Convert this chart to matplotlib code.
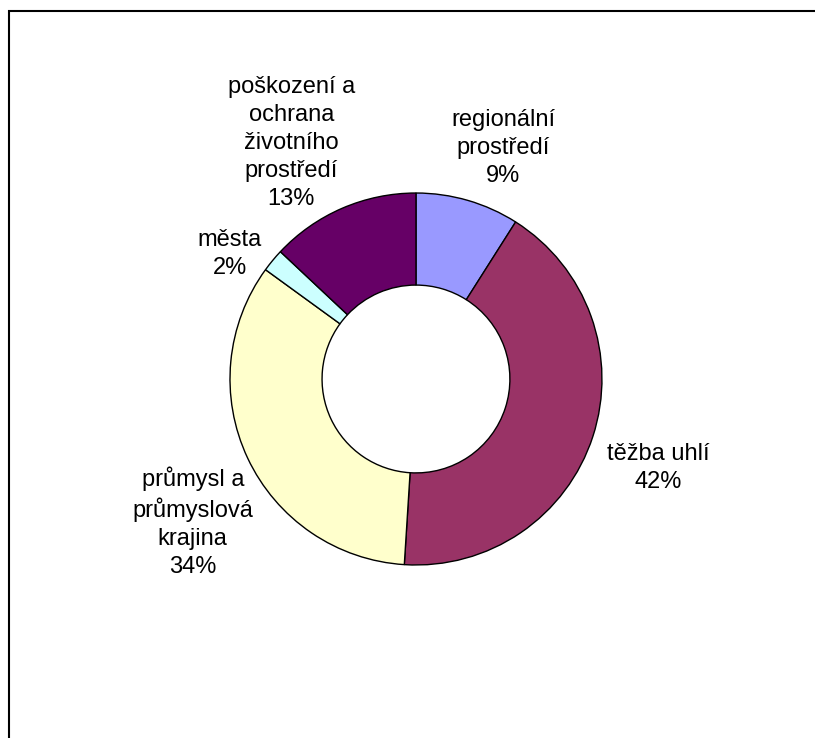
import matplotlib.pyplot as plt
from matplotlib.patches import Rectangle

# data
labels = ['regionální\nprostředí', 'těžba uhlí', 'průmysl a\nprůmyslová\nkrajina',
          'města', 'poškození a\nochrana\nživotního\nprostředí']
values = [9, 42, 34, 2, 13]
colors = ['#9999FF', '#993366', '#FFFFCC', '#CCFFFF', '#660066']
# label block centers, in units of outer radius
label_pos = [(0.47, 1.24), (1.30, -0.48), (-1.20, -0.77), (-1.00, 0.67), (-0.67, 1.27)]

plt.rcParams['font.family'] = ['Liberation Sans', 'DejaVu Sans']

fig = plt.figure(figsize=(8.15, 7.38), dpi=100)
ax = fig.add_axes([0.2822, 0.2344, 0.4564, 0.5041])
ax.pie(values, colors=colors, startangle=90, counterclock=False, radius=1,
       wedgeprops=dict(width=0.495, edgecolor='black', linewidth=1.0))
ax.set_xlim(-1, 1)
ax.set_ylim(-1, 1)
ax.set_aspect('equal')
ax.axis('off')

total = sum(values)
for lab, v, (x, y) in zip(labels, values, label_pos):
    ax.text(x, y, f'{lab}\n{round(100 * v / total)}%', ha='center', va='center',
            fontsize=17, linespacing=1.35, clip_on=False)

# outer frame (only top and left edges visible in the image)
fig.patches.append(Rectangle((8.5 / 815, -0.1), 1.2, 1 - 10.5 / 738 + 0.1,
                             transform=fig.transFigure, fill=False,
                             edgecolor='black', linewidth=1.5))

fig.savefig('out.png', dpi=100)
